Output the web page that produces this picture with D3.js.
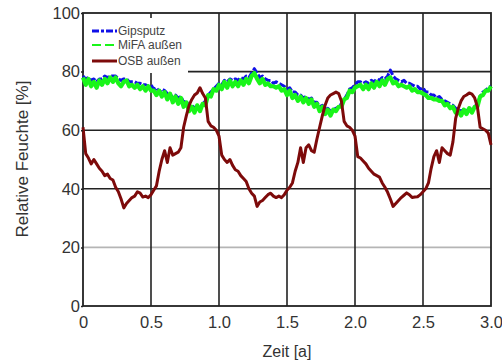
<!DOCTYPE html>
<html>
<head>
<meta charset="utf-8">
<script src="https://cdn.jsdelivr.net/npm/d3@7/dist/d3.min.js"></script>
<style>
  html, body { margin: 0; padding: 0; background: #fff; }
  svg { display: block; }
  text { font-family: Arial, "Liberation Sans", sans-serif; fill: #333; }
</style>
</head>
<body>
<svg id="chart" width="502" height="363"></svg>
<script>
// Sampling interval of the series (years)
const step = 0.02;

// Relative humidity [%] per sample, three years
const gipsputz = [
  78.5, 77.5, 78, 77, 77.5, 76.5, 77.5, 77.5, 78.5, 78,
  78.5, 78.5, 78.5, 77.5, 77, 77.5, 77.5, 76.5, 76.5, 76.5,
  76, 76, 75.5, 75.5, 75, 75.5, 74, 74.5, 73, 74,
  73.5, 72.5, 72.5, 71, 72, 71, 71.5, 69.5, 70, 68,
  68.5, 67.5, 68.5, 67.5, 69, 70, 72, 73, 74, 75,
  76, 75.5, 77, 76.5, 77.5, 77, 77.5, 77, 78, 77.5,
  78.5, 78, 79.5, 81, 79.5, 78, 78.5, 77.5, 77, 77,
  76, 76.5, 76, 75.5, 75, 74, 74.5, 73, 73, 72,
  72, 71, 71.5, 70.5, 71, 69.5, 69.5, 68, 68.5, 67,
  67.5, 66.5, 67, 67.5, 68, 69, 70.5, 72, 74, 74.5,
  75.5, 76.5, 76.5, 76, 76.5, 76, 77, 76.5, 77.5, 77,
  78, 77.5, 78.5, 80.5, 78.5, 77.5, 77, 76.5, 77, 76,
  76, 75.5, 75, 75, 74, 74.5, 73, 73, 72, 72,
  71, 71.5, 70.5, 70, 69.5, 69, 68.5, 67.5, 67, 66.5,
  67, 66.5, 67.5, 67, 68, 69, 71.5, 73, 73.5, 74.5,
  75
];

const mifa = [
  78, 75.5, 77.5, 75, 76.5, 74.5, 77, 75.5, 77.5, 76,
  78, 76.5, 78, 76, 75, 76.5, 77, 75, 75.5, 74.5,
  75.5, 74, 75, 73.5, 75, 73.5, 73.5, 72, 73.5, 71.5,
  73, 70.5, 72.5, 69.5, 71.5, 69, 71, 68, 69.5, 66.5,
  68, 66, 68.5, 66.5, 69, 68.5, 72, 71.5, 74, 73.5,
  75.5, 74, 76.5, 74.5, 77, 75, 76.5, 75, 77, 75.5,
  77.5, 76, 78.5, 79.5, 77.5, 76, 77.5, 75.5, 76, 75,
  75, 74.5, 75, 73.5, 74, 72, 73.5, 71, 72, 70,
  71.5, 69.5, 71, 69, 70.5, 68, 69, 66.5, 68, 65.5,
  67, 65, 67, 66.5, 68, 68, 70.5, 71, 73.5, 73,
  74.5, 75, 75.5, 74, 75.5, 74, 76, 74.5, 76.5, 75,
  77, 75.5, 77.5, 78, 76, 76.5, 75, 75.5, 75, 74.5,
  75, 73.5, 74, 73, 73, 72.5, 72, 71, 71, 70.5,
  70.5, 70, 70, 68.5, 69, 67.5, 68, 66, 66.5, 65,
  67, 65.5, 67.5, 66, 68, 68, 71.5, 72, 73.5, 73.5,
  75
];

const osb = [
  61, 52, 50.5, 48.5, 50, 48.5, 47, 46, 44.5, 45,
  43.5, 43, 40.5, 39, 36.5, 33.5, 35, 36, 37, 37.5,
  39, 38.5, 37.2, 37.5, 37, 38, 39.5, 41, 46, 50,
  53, 49, 54, 51.5, 52, 52.5, 54, 61, 65, 68.5,
  70.5, 72, 72.7, 74.5, 72.5, 71, 63, 61.5, 61, 60,
  58, 51.5, 50, 49, 50, 48, 46.5, 46, 44.5, 43.5,
  42.5, 40, 38.5, 37.5, 34, 35.5, 36, 37, 38, 38.5,
  37.5, 37, 37.5, 37, 38, 39.5, 40.5, 42, 46, 49,
  54, 49, 54, 55, 53, 52.5, 57, 61, 65, 68.5,
  71, 72, 72.5, 73, 72.5, 70, 63, 61.5, 61, 60,
  58, 51, 50.5, 49.5, 48.5, 47, 46, 45, 44.5, 44,
  42, 40.5, 38.8, 36.5, 34, 35, 36, 37, 37.8, 38.6,
  38, 37, 37.2, 37.3, 38, 39, 40, 42, 47, 51,
  53, 49, 54, 53, 52, 51.5, 56, 64, 67.5, 70,
  71.5, 72, 72.7, 72.3, 71, 68, 61, 60.5, 60, 59,
  55
];

// Axis ticks and labels
const xTicks = [0, 0.5, 1.0, 1.5, 2.0, 2.5, 3.0];
const xTickLabels = ["0", "0.5", "1.0", "1.5", "2.0", "2.5", "3.0"];
const yTicks = [0, 20, 40, 60, 80, 100];
const yTickLabels = ["0", "20", "40", "60", "80", "100"];

const seriesNames = ["Gipsputz", "MiFA außen", "OSB außen"];
const seriesColors = ["#1010e8", "#19f519", "#7d0a0a"];

const svg = d3.select("#chart");
const x = d3.scaleLinear().domain([0, 3]).range([83, 491]);
const y = d3.scaleLinear().domain([0, 100]).range([306, 13]);

// Grid
const grid = svg.append("g");
grid.selectAll("line.h").data(yTicks.filter(v => v > 0 && v < 100)).join("line")
  .attr("x1", x(0)).attr("x2", x(3))
  .attr("y1", d => y(d)).attr("y2", d => y(d))
  .attr("stroke", d => d === 20 ? "#b5b5b5" : "#222")
  .attr("stroke-width", 1.6);
grid.selectAll("line.v").data(xTicks.filter(v => v > 0 && v < 3)).join("line")
  .attr("x1", d => x(d)).attr("x2", d => x(d))
  .attr("y1", y(100)).attr("y2", y(0))
  .attr("stroke", "#222").attr("stroke-width", 1.6);

// Frame
svg.append("rect")
  .attr("x", x(0)).attr("y", y(100))
  .attr("width", x(3) - x(0)).attr("height", y(0) - y(100))
  .attr("fill", "none").attr("stroke", "#222").attr("stroke-width", 1.8);

// Legend background
svg.append("rect")
  .attr("x", x(0) + 1).attr("y", 18)
  .attr("width", 104).attr("height", 55)
  .attr("fill", "#fff");

// Series
const line = d3.line()
  .x((d, i) => x(i * step))
  .y(d => y(d));

svg.append("path").datum(gipsputz)
  .attr("d", line).attr("fill", "none")
  .attr("stroke", seriesColors[0]).attr("stroke-width", 3)
  .attr("stroke-dasharray", "7,2").attr("stroke-linejoin", "round");
svg.append("path").datum(mifa)
  .attr("d", line).attr("fill", "none")
  .attr("stroke", seriesColors[1]).attr("stroke-width", 4.2)
  .attr("stroke-linejoin", "round");
svg.append("path").datum(osb)
  .attr("d", line).attr("fill", "none")
  .attr("stroke", seriesColors[2]).attr("stroke-width", 3)
  .attr("stroke-linejoin", "round");

// Legend entries
const legendY = [31, 45, 61];
const legendDash = ["7,2,3,2", "9,4", null];
const legendWidth = [3.2, 2.2, 3];
const lg = svg.append("g");
seriesNames.forEach((name, i) => {
  lg.append("line")
    .attr("x1", 92).attr("x2", 117)
    .attr("y1", legendY[i]).attr("y2", legendY[i])
    .attr("stroke", seriesColors[i]).attr("stroke-width", legendWidth[i])
    .attr("stroke-dasharray", legendDash[i]);
  lg.append("text")
    .attr("x", 118).attr("y", legendY[i])
    .attr("dy", "0.35em")
    .attr("font-size", 12)
    .style("fill", "#444")
    .text(name);
});

// Axes
const xAxis = d3.axisBottom(x).tickValues(xTicks)
  .tickFormat((d, i) => xTickLabels[i]).tickSize(0).tickPadding(10);
const gx = svg.append("g").attr("transform", `translate(0,${y(0)})`).call(xAxis);
gx.select(".domain").remove();
gx.selectAll("text").attr("font-size", 16.5).style("font-family", "Arial, 'Liberation Sans', sans-serif").style("fill", "#333");

const yAxis = d3.axisLeft(y).tickValues(yTicks)
  .tickFormat((d, i) => yTickLabels[i]).tickSize(2).tickPadding(1);
const gy = svg.append("g").attr("transform", `translate(${x(0)},0)`).call(yAxis);
gy.select(".domain").remove();
gy.selectAll("line").attr("stroke", "#222").attr("stroke-width", 1.5);
gy.selectAll("text").attr("font-size", 16.5).style("font-family", "Arial, 'Liberation Sans', sans-serif").style("fill", "#333");

// Axis titles
svg.append("text")
  .attr("x", 287).attr("y", 357)
  .attr("text-anchor", "middle")
  .attr("font-size", 16)
  .text("Zeit [a]");
svg.append("text")
  .attr("transform", "translate(28,159) rotate(-90)")
  .attr("text-anchor", "middle")
  .attr("font-size", 17)
  .text("Relative Feuchte [%]");
</script>
</body>
</html>
